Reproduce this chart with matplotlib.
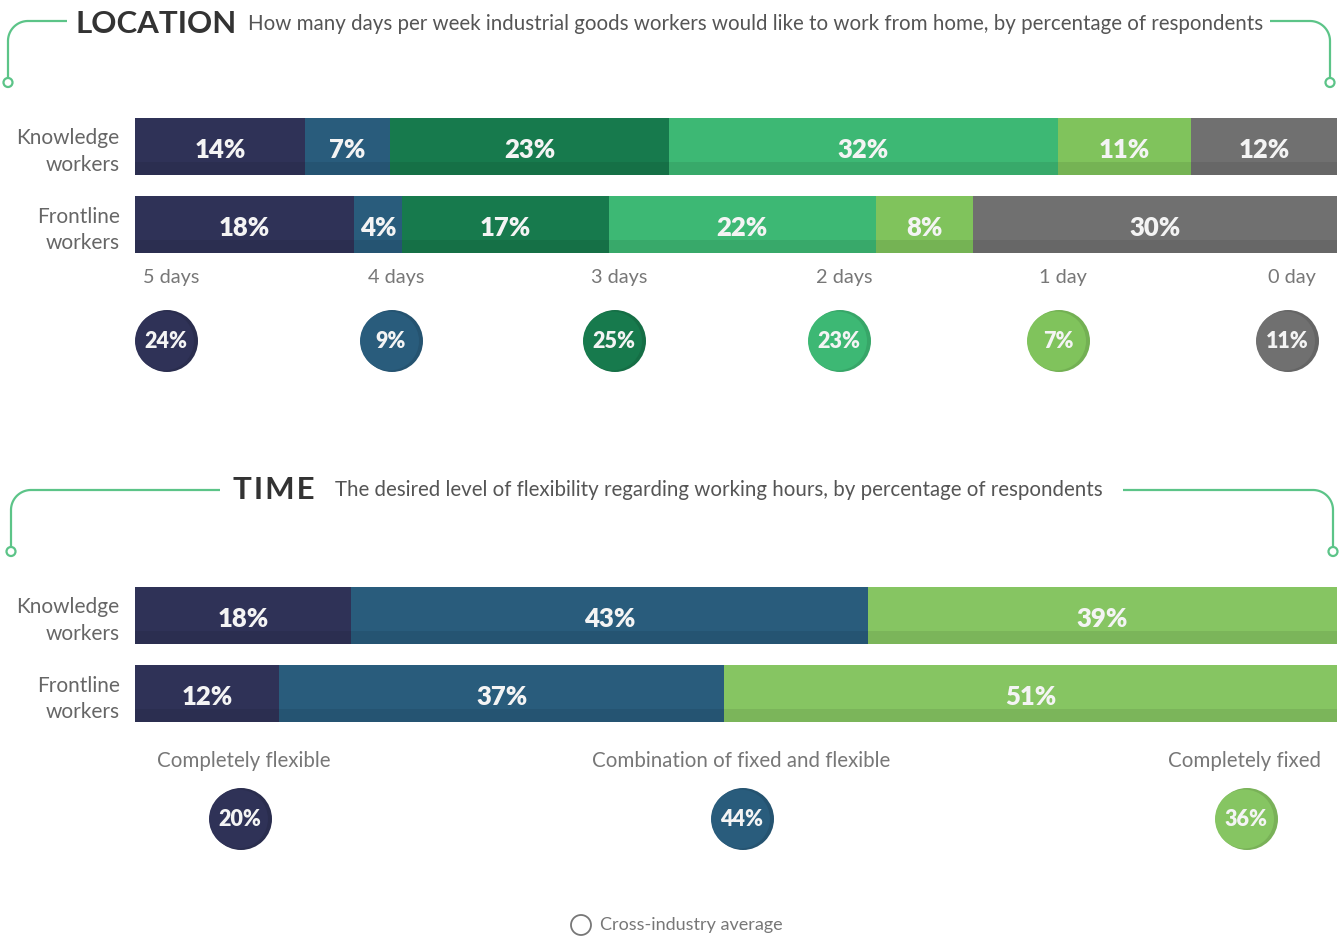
import numpy as np
import matplotlib.pyplot as plt
from matplotlib.patches import Circle

plt.rcParams['font.family'] = ['Lato', 'DejaVu Sans']

# ---- data ----
rows = ['Knowledge\nworkers', 'Frontline\nworkers']

loc_cats = ['5 days', '4 days', '3 days', '2 days', '1 day', '0 day']
loc_knowledge = [14, 7, 23, 32, 11, 12]
loc_frontline = [18, 4, 17, 22, 8, 30]
loc_avg = [24, 9, 25, 23, 7, 11]

time_cats = ['Completely flexible', 'Combination of fixed and flexible', 'Completely fixed']
time_knowledge = [18, 43, 39]
time_frontline = [12, 37, 51]
time_avg = [20, 44, 36]

loc_colors = ['#2f3257', '#295c7c', '#177a4d', '#3db874', '#80c35c', '#707070']
time_colors = ['#2f3257', '#295c7c', '#86c562']
line_green = '#5cc488'

W, H = 1343, 938
fig = plt.figure(figsize=(W / 100, H / 100), dpi=100)

# overlay in pixel coordinates for annotations
ov = fig.add_axes([0, 0, 1, 1])
ov.set_xlim(0, W)
ov.set_ylim(H, 0)
ov.axis('off')
ov.patch.set_visible(False)


def bar_block(top, series, colors, total):
    # two bars 57px tall, 78px apart, starting at pixel row `top`
    bh = 0.73
    ax = fig.add_axes([135 / W, 1 - (top + 135) / H, 1202 / W, 135 / H])
    ax.set_xlim(0, total)
    ax.set_ylim(1 + bh / 2, -bh / 2)
    strip = bh * 0.23
    for i, vals in enumerate(series):
        left = 0
        for v, c in zip(vals, colors):
            ax.barh(i, v, left=left, height=bh, color=c, linewidth=0)
            ax.barh(i + bh / 2 - strip / 2, v, left=left, height=strip,
                    color='black', alpha=0.08, linewidth=0)
            ax.text(left + v / 2, i + 0.04, f'{v}%', color='#f4f4f4',
                    fontsize=18.5, fontweight='heavy', ha='center', va='center')
            left += v
    ax.set_yticks([0, 1])
    ax.set_yticklabels(rows, fontsize=15, color='#666666', linespacing=1.4,
                       ha='right', multialignment='right')
    ax.tick_params(axis='y', length=0, pad=11)
    ax.set_xticks([])
    for s in ax.spines.values():
        s.set_visible(False)
    ax.patch.set_visible(False)
    return ax


def avg_circle(cx, cy, val, color):
    dark = tuple(c * 0.9 for c in plt.matplotlib.colors.to_rgb(color))
    ov.add_patch(Circle((cx, cy), 31, color=dark, linewidth=0))
    ov.add_patch(Circle((cx - 2.5, cy), 29.5, color=color, linewidth=0))
    ov.text(cx - 1, cy + 1, f'{val}%', color='#f4f4f4', fontsize=15.5,
            fontweight='heavy', ha='center', va='center')


def bracket(y, x_left_end, x_right_start, xl, xr, y_bottom):
    r = 20
    t = np.linspace(0, np.pi / 2, 30)
    # left
    xs = np.concatenate([[x_left_end], xl + r - r * np.sin(t), [xl]])
    ys = np.concatenate([[y], y + r - r * np.cos(t), [y_bottom]])
    ov.plot(xs, ys, color=line_green, lw=1.6, solid_capstyle='butt')
    # right
    xs = np.concatenate([[x_right_start], xr - r + r * np.sin(t), [xr]])
    ys = np.concatenate([[y], y + r - r * np.cos(t), [y_bottom]])
    ov.plot(xs, ys, color=line_green, lw=1.6, solid_capstyle='butt')
    for x in (xl, xr):
        ov.add_patch(Circle((x, y_bottom + 4.5), 4.5, facecolor='white',
                            edgecolor=line_green, lw=1.6, zorder=3))


# ---- LOCATION ----
bracket(21, 67, 1270, 8, 1330, 78)
ov.text(75, 24, 'LOCATION', fontsize=22.5, fontweight='bold', color='#333333',
        ha='left', va='center')
ov.text(248, 24, 'How many days per week industrial goods workers would like to work from home, '
        'by percentage of respondents', fontsize=14.8, color='#555555',
        ha='left', va='center')

bar_block(118, [loc_knowledge, loc_frontline], loc_colors, sum(loc_knowledge))

loc_x = [167, 392, 615, 840, 1059, 1288]
for x, lab, v, c in zip(loc_x, loc_cats, loc_avg, loc_colors):
    ov.text(x + 4, 278, lab, fontsize=14.3, color='#777777', ha='center', va='center')
    avg_circle(x, 341, v, c)

# ---- TIME ----
bracket(490, 220, 1123, 11, 1333, 547)
ov.text(233, 490, 'T\u200aI\u200aM\u200aE', fontsize=22.5, fontweight='bold',
        color='#333333', ha='left', va='center')
ov.text(335, 490, 'The desired level of flexibility regarding working hours, '
        'by percentage of respondents', fontsize=14.8, color='#555555',
        ha='left', va='center')

bar_block(587, [time_knowledge, time_frontline], time_colors, sum(time_knowledge))

time_x = [241, 743, 1247]
time_lab_x = [244, 741, 1245]
for x, lx, lab, v, c in zip(time_x, time_lab_x, time_cats, time_avg, time_colors):
    ov.text(lx, 761, lab, fontsize=14.8, color='#777777', ha='center', va='center')
    avg_circle(x, 819, v, c)

# ---- footer ----
ov.add_patch(Circle((581, 925), 10, facecolor='none', edgecolor='#777777', lw=1.3))
ov.text(600, 925, 'Cross-industry average', fontsize=13, color='#777777',
        ha='left', va='center')

fig.savefig('out.png', dpi=100)
